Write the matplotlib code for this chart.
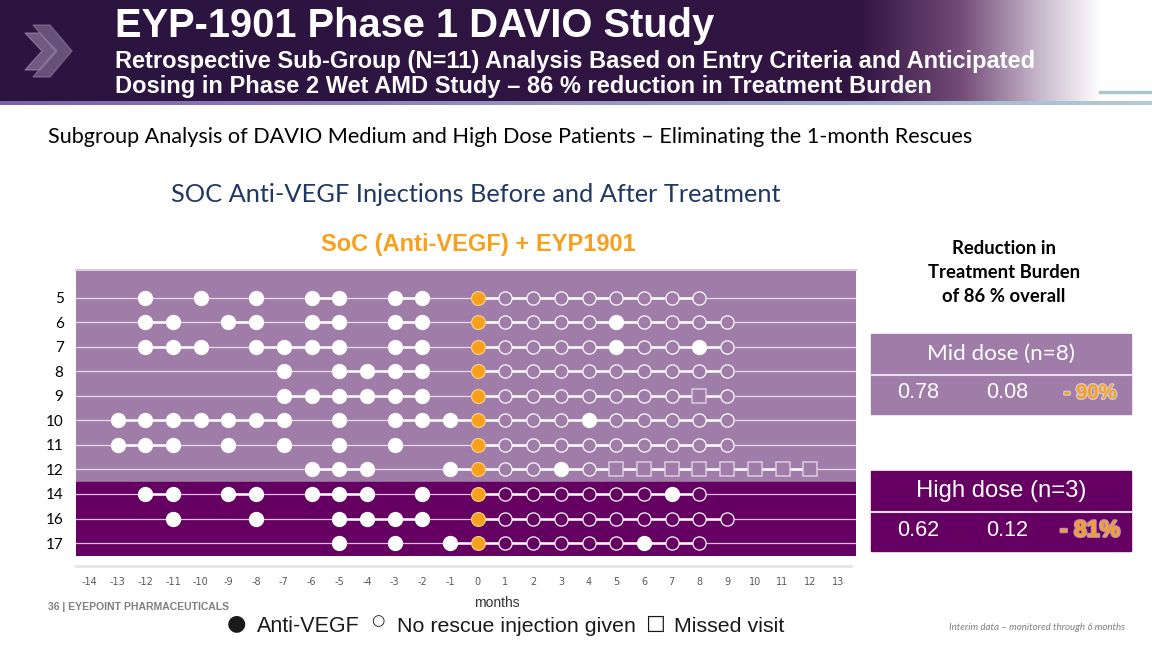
import matplotlib.pyplot as plt
import numpy as np
from matplotlib.patches import Rectangle, Polygon
import matplotlib.patheffects as pe

# patient ids (rows) and dose groups
patients = ['5', '6', '7', '8', '9', '10', '11', '12', '14', '16', '17']
n_mid = 8  # first 8 rows mid dose, rest high dose

# months with an anti-VEGF injection (filled white dots)
anti_vegf = [
    [-12, -10, -8, -6, -5, -3, -2],
    [-12, -11, -9, -8, -6, -5, -3, -2, 5],
    [-12, -11, -10, -8, -7, -6, -5, -3, -2, 5, 8],
    [-7, -5, -4, -3, -2],
    [-7, -6, -5, -4, -3, -2],
    [-13, -12, -11, -10, -9, -8, -7, -5, -3, -2, -1, 4],
    [-13, -12, -11, -9, -7, -5, -3],
    [-6, -5, -4, -1, 3],
    [-12, -11, -9, -8, -6, -5, -4, -2, 7],
    [-11, -8, -5, -4, -3, -2],
    [-5, -3, -1, 6],
]
# months with a visit and no rescue injection (open circles)
no_rescue = [
    [1, 2, 3, 4, 5, 6, 7, 8],
    [1, 2, 3, 4, 6, 7, 8, 9],
    [1, 2, 3, 4, 6, 7, 9],
    [1, 2, 3, 4, 5, 6, 7, 8, 9],
    [1, 2, 3, 4, 5, 6, 7, 9],
    [1, 2, 3, 5, 6, 7, 8, 9],
    [1, 2, 3, 4, 5, 6, 7, 8, 9],
    [1, 2, 4],
    [1, 2, 3, 4, 5, 6, 8],
    [1, 2, 3, 4, 5, 6, 7, 8, 9],
    [1, 2, 3, 4, 5, 7, 8],
]
# missed visits (open squares)
missed = [[], [], [], [], [8], [], [], [5, 6, 7, 8, 9, 10, 11, 12], [], [], []]
# EYP-1901 dosing month
dose_month = 0

months = list(range(-14, 14))

# reduction table
groups = ['Mid dose (n=8)', 'High dose (n=3)']
before = ['0.78', '0.62']
after = ['0.08', '0.12']
reduction = ['- 90%', '- 81%']

light = '#A07CA8'
dark = '#650062'
orange = '#F7A01C'

fig = plt.figure(figsize=(11.52, 6.48), dpi=100)

# overlay axes in pixel coordinates for slide decorations
bg = fig.add_axes([0, 0, 1, 1])
bg.axis('off')

# header gradient band: dark purple fading through mauve to white
xs = np.arange(1152)
stops_x = [0, 860, 960, 1040, 1100, 1152]
stops_c = np.array([[43, 20, 64], [50, 20, 66], [115, 75, 120], [200, 185, 205],
                    [255, 255, 255], [255, 255, 255]]) / 255
row = np.stack([np.interp(xs, stops_x, stops_c[:, k]) for k in range(3)], axis=1)
bg.imshow(np.repeat(row[None, :, :], 2, axis=0), extent=[0, 1152, 101, 0],
          aspect='auto', zorder=0)
cl0 = np.array([125, 95, 175]) / 255
cl1 = np.array([175, 205, 215]) / 255
tl = xs / 1152
line_img = cl0[None, :] * (1 - tl[:, None]) + cl1[None, :] * tl[:, None]
bg.imshow(np.repeat(line_img[None, :, :], 2, axis=0), extent=[0, 1152, 105, 101],
          aspect='auto', zorder=0)
bg.plot([1100, 1152], [92, 92], color='#A9C9D2', lw=2.5, zorder=1)
bg.set_xlim(0, 1152)
bg.set_ylim(648, 0)

# chevrons
bg.add_patch(Polygon([(25, 33), (40, 33), (57, 51), (40, 70), (25, 70), (42, 51)],
                     closed=True, color='#A994B8', alpha=0.55, zorder=2))
bg.add_patch(Polygon([(33, 25), (50, 25), (72, 51), (50, 77), (33, 77), (55, 51)],
                     closed=True, color='#8E7AA0', alpha=0.6, zorder=2))

bg.text(115, 37, 'EYP-1901 Phase 1 DAVIO Study', color='white', fontsize=28.7,
        fontweight='bold', family='Liberation Sans', va='baseline')
bg.text(115, 68, 'Retrospective Sub-Group (N=11) Analysis Based on Entry Criteria and Anticipated',
        color='white', fontsize=17, fontweight='bold', family='Liberation Sans', va='baseline')
bg.text(115, 93, 'Dosing in Phase 2 Wet AMD Study \u2013 86 % reduction in Treatment Burden',
        color='white', fontsize=17, fontweight='bold', family='Liberation Sans', va='baseline')

bg.text(48, 137, 'Subgroup Analysis of DAVIO Medium and High Dose Patients \u2013 Eliminating the 1-month Rescues',
        fontsize=15.6, family='Lato', va='center', color='black')
bg.text(476, 194, 'SOC Anti-VEGF Injections Before and After Treatment', fontsize=18.3,
        family='Lato', va='center', ha='center', color='#1F3864')
bg.text(478, 244, 'SoC (Anti-VEGF) + EYP1901', fontsize=17, fontweight='bold',
        family='Liberation Sans', va='center', ha='center', color=orange)

# reduction panel
bg.text(1004, 273, 'Reduction in\nTreatment Burden\nof 86 % overall', fontsize=13.3,
        fontweight='bold', family='Lato', ha='center', va='center', linespacing=1.5)
box_top = [334, 471]
box_col = [light, dark]
head_size = [16.2, 17.2]
red_size = [14.6, 16.6]
for k in range(2):
    y0 = box_top[k]
    bg.add_patch(Rectangle((871, y0), 260, 80, color=box_col[k], zorder=2))
    bg.plot([871, 1131], [y0 + 40.5, y0 + 40.5], color='#E8DDEB', lw=1.5, zorder=3)
    bg.text(1001, y0 + 20, groups[k], color='white', fontsize=head_size[k],
            family='Lato' if k == 0 else 'Liberation Sans', ha='center', va='center', zorder=4)
    bg.text(918, y0 + 59, before[k], color='white', fontsize=15.5, family='Liberation Sans',
            ha='center', va='center', zorder=4)
    bg.text(1007, y0 + 59, after[k], color='white', fontsize=15.5, family='Liberation Sans',
            ha='center', va='center', zorder=4)
    bg.text(1090, y0 + 59, reduction[k], color=orange, fontsize=red_size[k],
            fontweight='bold', family='Liberation Sans', ha='center', va='center', zorder=4,
            path_effects=[pe.withStroke(linewidth=2, foreground='white', alpha=0.55)])

# axis decoration lines / labels outside the plot
bg.plot([76, 851], [566, 566], color='#E6E6E6', lw=2, zorder=1)
bg.text(497, 603, 'months', fontsize=10, family='Liberation Sans', ha='center', va='center',
        color='#333333')
bg.text(48, 607, '36 | EYEPOINT PHARMACEUTICALS', fontsize=7.5, fontweight='bold',
        family='Liberation Sans', va='center', color='#7F7F7F')
bg.text(236, 623, '\u25cf', fontsize=16, family='DejaVu Sans', ha='center', va='center',
        color='#1A1A1A')
bg.text(257, 627, 'Anti-VEGF', fontsize=15.5, family='Liberation Sans', va='center',
        color='#1A1A1A')
bg.text(378, 621, '\u25cb', fontsize=11, family='DejaVu Sans', ha='center', va='center',
        color='#1A1A1A')
bg.text(397, 627, 'No rescue injection given', fontsize=15.4, family='Liberation Sans',
        va='center', color='#1A1A1A')
bg.text(655, 626, '\u2610', fontsize=16, family='DejaVu Sans', ha='center', va='center',
        color='#1A1A1A')
bg.text(674, 627, 'Missed visit', fontsize=15.4, family='Liberation Sans', va='center',
        color='#1A1A1A')
bg.text(1125, 627, 'Interim data \u2013 monitored through 6 months', fontsize=7,
        style='italic', family='Lato', ha='right', va='center', color='#7F7F7F')

# main swimmer-style plot
ax = fig.add_axes([76 / 1152, 92 / 648, 780 / 1152, 286 / 648])
ax.set_xlim(-14.5, 13.65)
ax.set_ylim(10.53, -1.14)
ax.axhspan(-1.14, n_mid - 0.5, color=light, zorder=0)
ax.axhspan(n_mid - 0.5, 10.53, color=dark, zorder=0)

for i in range(len(patients)):
    face = light if i < n_mid else dark
    ax.axhline(i, color='white', lw=0.9, alpha=0.75, zorder=1)
    marked = sorted(anti_vegf[i] + no_rescue[i] + missed[i] + [dose_month])
    for a, b in zip(marked[:-1], marked[1:]):
        if b - a == 1:
            ax.plot([a, b], [i, i], color='white', lw=1.8, zorder=2, solid_capstyle='butt')
    ax.plot(anti_vegf[i], [i] * len(anti_vegf[i]), 'o', ms=10, mfc='white', mec='white',
            zorder=3)
    ax.plot(no_rescue[i], [i] * len(no_rescue[i]), 'o', ms=9.5, mfc=face, mec='white',
            mew=0.9, zorder=3)
    ax.plot(missed[i], [i] * len(missed[i]), 's', ms=9.5, mfc=face, mec='#DCCDE0',
            mew=1.1, zorder=3)
    ax.plot([dose_month], [i], 'o', ms=10, mfc=orange, mec='#FBD38A', mew=0.8, zorder=4)

ax.set_yticks(range(len(patients)))
ax.set_yticklabels(patients, fontsize=11, family='Lato')
ax.set_xticks(months)
ax.set_xticklabels([str(m) for m in months], fontsize=7, family='Liberation Sans Narrow',
                   color='#595959')
ax.tick_params(axis='both', length=0)
ax.tick_params(axis='x', pad=15)
ax.tick_params(axis='y', pad=9)
for s in ['left', 'right', 'bottom']:
    ax.spines[s].set_visible(False)
ax.spines['top'].set_color('#D9CBDD')
ax.spines['top'].set_linewidth(1.5)

fig.savefig('out.png', dpi=100)
